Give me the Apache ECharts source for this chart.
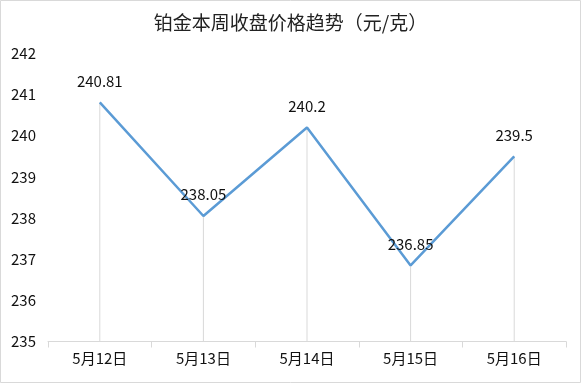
<!DOCTYPE html>
<html><head><meta charset="utf-8">
<script src="https://cdn.jsdelivr.net/npm/echarts@6/dist/echarts.min.js"></script>
<style>html,body{margin:0;padding:0;background:#fff}#c{width:581px;height:383px}</style>
</head><body><div id="c"></div>
<script>
const categories = ['5月12日','5月13日','5月14日','5月15日','5月16日'];
const prices = [240.81, 238.05, 240.2, 236.85, 239.5];
const yTicks = [235, 236, 237, 238, 239, 240, 241, 242];
const titleText = '铂金本周收盘价格趋势（元/克）';

const font = '"Microsoft YaHei","Noto Sans CJK SC",sans-serif';
const chart = echarts.init(document.getElementById('c'));
chart.setOption({
  animation: false,
  backgroundColor: '#fff',
  title: {text: titleText, left: 'center', top: 8,
    textStyle: {fontFamily: font, fontSize: 19, fontWeight: 'normal', color: '#222'}},
  graphic: [{type: 'rect', shape: {x: 0.5, y: 0.5, width: 580, height: 382},
    style: {fill: 'none', stroke: '#d9d9d9', lineWidth: 1}, silent: true}],
  grid: {left: 48, right: 15, top: 53.5, bottom: 41.5},
  xAxis: {type: 'category', data: categories, boundaryGap: true,
    axisLine: {lineStyle: {color: '#d9d9d9', width: 1}},
    axisTick: {show: true, length: 6, lineStyle: {color: '#d9d9d9'}},
    axisLabel: {color: '#111', fontFamily: font, fontSize: 15, margin: 9},
    splitLine: {show: false}},
  yAxis: {type: 'value', min: yTicks[0], max: yTicks[yTicks.length-1], interval: 1,
    axisLine: {show: false}, axisTick: {show: false}, splitLine: {show: false},
    axisLabel: {color: '#111', fontFamily: font, fontSize: 15, align: 'left', margin: 37}},
  series: [
    {type: 'bar', data: prices, barWidth: 1, silent: true, z: 1,
     itemStyle: {color: '#d9d9d9'}},
    {type: 'line', data: prices, symbol: 'none', z: 3,
     lineStyle: {color: '#5b9bd5', width: 2.5}},
    {type: 'bar', data: prices, barWidth: 1, barGap: '-100%', silent: true, z: 5,
     itemStyle: {color: 'rgba(0,0,0,0)'},
     label: {show: true, position: 'top', distance: 14, color: '#111', fontFamily: font, fontSize: 15}}
  ]
});
</script></body></html>
